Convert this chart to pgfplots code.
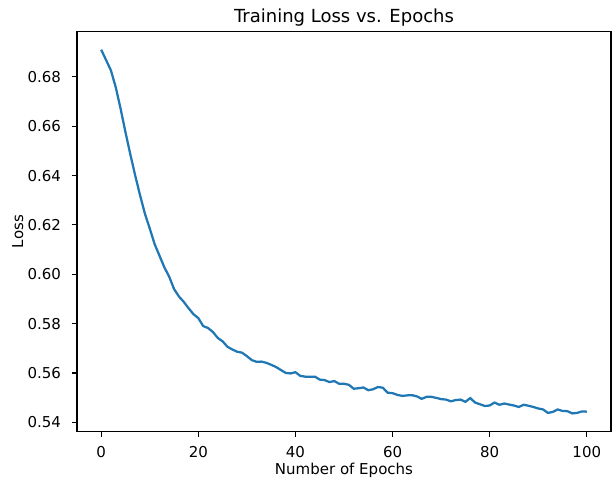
\documentclass[border=0pt]{standalone}
\usepackage{fontspec}
\setmainfont{DejaVu Sans}
\usepackage{pgfplots}
\usepackage{pgfplotstable}
\pgfplotsset{compat=1.18}
\definecolor{mplblue}{HTML}{1F77B4}
\pgfplotstableread{
epoch loss
0 0.6910
1 0.6868
2 0.6826
3 0.6757
4 0.6670
5 0.6575
6 0.6485
7 0.6400
8 0.6320
9 0.6245
10 0.6185
11 0.6122
12 0.6075
13 0.6028
14 0.5990
15 0.5940
16 0.5910
17 0.5888
18 0.5862
19 0.5838
20 0.5822
21 0.5790
22 0.5782
23 0.5766
24 0.5742
25 0.5728
26 0.5706
27 0.5695
28 0.5686
29 0.5682
30 0.5668
31 0.5652
32 0.5645
33 0.5646
34 0.5641
35 0.5633
36 0.5624
37 0.5612
38 0.5600
39 0.5598
40 0.5603
41 0.5588
42 0.5585
43 0.5584
44 0.5585
45 0.5573
46 0.5571
47 0.5563
48 0.5567
49 0.5556
50 0.5556
51 0.5552
52 0.5536
53 0.5538
54 0.5541
55 0.5530
56 0.5534
57 0.5543
58 0.5540
59 0.5520
60 0.5518
61 0.5511
62 0.5507
63 0.5509
64 0.5510
65 0.5505
66 0.5495
67 0.5503
68 0.5503
69 0.5499
70 0.5494
71 0.5492
72 0.5485
73 0.5490
74 0.5492
75 0.5483
76 0.5498
77 0.5480
78 0.5473
79 0.5466
80 0.5468
81 0.5480
82 0.5471
83 0.5476
84 0.5472
85 0.5468
86 0.5462
87 0.5471
88 0.5467
89 0.5462
90 0.5456
91 0.5452
92 0.5438
93 0.5442
94 0.5452
95 0.5446
96 0.5445
97 0.5436
98 0.5438
99 0.5444
100 0.5443
}\losstable
\begin{document}
\begin{tikzpicture}
\path[use as bounding box] (-55.4bp,-34.2bp) rectangle (385.9bp,310.7bp);
\begin{axis}[
  at={(0,0)}, anchor=south west,
  scale only axis, width=384.5bp, height=288bp,
  xmin=-5, xmax=105, ymin=0.53623, ymax=0.69837,
  xtick={0,20,40,60,80,100},
  ytick={0.54,0.56,0.58,0.60,0.62,0.64,0.66,0.68},
  yticklabel style={/pgf/number format/fixed, /pgf/number format/fixed zerofill, /pgf/number format/precision=2},
  /pgf/number format/assume math mode=true,
  tick align=outside, major tick length=3.78bp,
  xtick pos=left, ytick pos=left,
  every tick/.style={black, line width=0.86bp},
  axis line style={line width=0.86bp, black},
  tick label style={font=\fontsize{10.8bp}{13bp}\selectfont, text=black, inner sep=0pt},
  xticklabel style={anchor=north, yshift=-6.5bp},
  yticklabel style={anchor=east, xshift=-7.56bp},
  every axis title shift=0pt,
  title={Training Loss vs. Epochs},
  title style={at={(axis description cs:0.5,1)}, anchor=base, yshift=6.48bp, inner sep=0pt, font=\fontsize{12.96bp}{15bp}\selectfont},
  xlabel={Number of Epochs},
  xlabel style={at={(axis description cs:0.5,0)}, anchor=base, yshift=-30.8bp, inner sep=0pt, font=\fontsize{10.8bp}{13bp}\selectfont},
  ylabel={Loss},
  ylabel style={at={(axis description cs:-0.1001,0.5)}, anchor=south, inner sep=0pt, font=\fontsize{10.8bp}{13bp}\selectfont},
]
\addplot[mplblue, line width=1.62bp, mark=none] table[x=epoch, y=loss] {\losstable};
\end{axis}
\end{tikzpicture}
\end{document}
